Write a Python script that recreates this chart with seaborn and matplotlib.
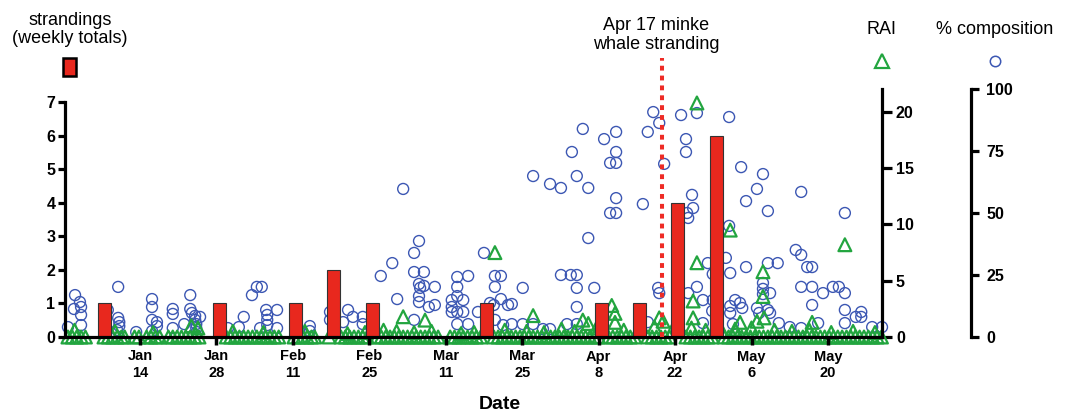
import matplotlib
matplotlib.use("Agg")
import matplotlib.pyplot as plt
import seaborn as sns
import pandas as pd
from matplotlib.lines import Line2D
from matplotlib.patches import Rectangle

# ---------------- data (x = day of year, Jan 1 = 1) ----------------
week_mid = [7.5, 28.5, 42.5, 49.5, 56.5, 77.5, 98.5, 105.5, 112.5, 119.5]
week_strandings = [1, 1, 1, 2, 1, 1, 1, 1, 4, 6]

event_day = 109.6          # Apr 17 minke whale stranding (as drawn)

tick_days = [14, 28, 42, 56, 70, 84, 98, 112, 126, 140]
tick_labels = ["Jan\n14", "Jan\n28", "Feb\n11", "Feb\n25", "Mar\n11",
               "Mar\n25", "Apr\n8", "Apr\n22", "May\n6", "May\n20"]

circle_day = [
    0.8, 2.1, 1.9, 3.0, 3.2, 3.2, 3.2, 8.1, 10.0, 10.0,
    10.2, 10.2, 9.8, 13.3, 16.2, 16.2, 16.2, 17.1, 17.1, 16.2,
    20.0, 20.0, 20.0, 22.1, 23.2, 23.2, 23.5, 24.1, 24.1, 24.3,
    24.3, 24.4, 25.0, 30.1, 32.1, 33.0, 34.5, 35.4, 36.3, 37.1,
    37.3, 37.3, 37.3, 39.1, 36.0, 39.1, 45.1, 45.1, 48.8, 48.8,
    51.2, 52.1, 53.0, 54.8, 54.8, 58.1, 60.2, 61.1, 62.2, 64.2,
    65.1, 64.2, 66.0, 65.1, 66.0, 65.3, 68.0, 65.1, 65.1, 66.9,
    68.0, 64.2, 71.1, 71.1, 71.1, 72.1, 72.1, 72.1, 72.1, 73.2,
    73.2, 74.1, 72.1, 74.1, 75.9, 77.0, 79.0, 80.1, 79.0, 80.1,
    78.1, 78.8, 81.4, 79.0, 80.5, 82.1, 84.1, 86.0, 89.1, 91.1,
    94.0, 96.1, 93.1, 95.1, 96.1, 91.1, 92.9, 94.0, 94.0, 97.2,
    94.0, 82.1, 84.1, 86.0, 87.8, 89.1, 92.2, 94.0, 99.0, 101.2,
    101.2, 100.1, 101.2, 101.2, 100.1, 101.2, 106.1, 107.0, 108.0, 109.1,
    110.0, 108.9, 109.1, 107.0, 113.1, 116.0, 121.9, 114.0, 114.0, 115.1,
    115.3, 114.2, 114.4, 124.1, 128.1, 127.0, 125.0, 129.0, 121.9, 118.0,
    121.3, 122.1, 125.0, 129.0, 130.8, 118.9, 116.0, 117.1, 118.9, 114.4,
    123.0, 123.9, 124.3, 122.1, 122.1, 118.8, 128.1, 128.1, 128.1, 129.0,
    127.0, 127.4, 117.1, 122.6, 135.1, 143.1, 134.1, 135.1, 136.2, 137.1,
    135.1, 137.1, 139.1, 140.9, 142.0, 143.1, 137.1, 143.1, 145.1, 146.1,
    146.1, 143.1, 131.0, 133.0, 135.1, 138.2, 148.1, 149.9, 129.4, 129.4,
]
circle_pct = [
    4.0, 16.9, 11.3, 14.1, 12.1, 8.9, 4.8, 10.9, 20.2, 7.7,
    6.0, 4.4, 2.8, 2.0, 15.3, 12.1, 6.9, 6.0, 4.4, 2.4,
    11.3, 9.3, 3.6, 5.2, 16.9, 11.3, 9.7, 8.5, 6.9, 5.2,
    3.6, 2.0, 8.1, 3.6, 4.0, 8.1, 16.9, 20.2, 20.2, 10.9,
    8.9, 6.9, 4.8, 10.9, 3.6, 3.6, 4.4, 2.4, 10.1, 6.9,
    6.0, 10.9, 8.1, 8.1, 5.2, 24.6, 29.8, 15.3, 59.7, 33.9,
    38.7, 26.2, 26.2, 21.4, 20.6, 19.8, 20.2, 16.5, 14.1, 12.1,
    12.9, 6.9, 14.9, 12.1, 10.1, 24.2, 20.2, 16.5, 10.1, 10.1,
    14.9, 24.6, 5.2, 5.2, 10.1, 33.9, 24.6, 24.6, 20.2, 15.3,
    13.7, 12.9, 12.9, 6.9, 4.8, 13.3, 19.8, 64.9, 61.7, 60.1,
    64.9, 60.1, 74.6, 83.9, 39.9, 25.0, 25.0, 25.0, 19.8, 19.8,
    12.1, 5.2, 5.2, 5.2, 3.2, 3.2, 5.2, 5.2, 79.8, 82.7,
    74.6, 70.2, 70.2, 56.0, 50.0, 50.0, 53.6, 82.7, 90.7, 86.3,
    69.8, 19.8, 17.7, 6.0, 89.5, 90.3, 88.7, 79.8, 74.6, 57.3,
    52.0, 50.0, 48.0, 68.5, 65.7, 59.7, 54.8, 50.8, 44.8, 29.8,
    31.9, 25.8, 28.2, 29.8, 29.8, 25.4, 20.2, 14.9, 14.9, 17.7,
    14.9, 13.7, 11.7, 12.5, 9.7, 10.5, 21.8, 19.4, 17.3, 10.9,
    11.7, 9.7, 5.6, 5.2, 58.5, 50.0, 35.1, 33.1, 28.2, 28.2,
    20.2, 20.2, 17.7, 20.2, 20.2, 17.7, 12.9, 10.9, 8.1, 10.1,
    8.1, 5.6, 5.6, 4.0, 3.6, 5.6, 4.0, 4.0, 17.7, 9.7,
]

rai_zero_days = [
    0.8, 1.6, 2.4, 3.2, 4.0, 7.4, 8.2, 9.0, 9.8, 10.6, 11.2, 13.0, 13.8,
    15.2, 16.0, 16.8, 17.6, 19.2, 20.0, 20.8, 21.6, 22.4, 23.2, 24.0, 24.8,
    29.8, 30.6, 31.4, 32.2, 33.0, 33.8, 34.6, 35.4, 36.2, 37.0, 37.8, 38.6, 39.4,
    42.2, 43.0, 43.8, 44.6, 45.4, 46.0, 48.6, 50.8, 51.6, 52.4, 53.2, 54.0,
    54.8, 55.6, 57.4, 58.2, 59.0, 59.8, 60.6, 61.4, 62.2, 63.0, 63.8, 64.6,
    65.4, 66.2, 67.0, 67.8, 68.6, 70.8, 71.6, 72.4, 73.2, 74.0, 74.8, 75.6,
    76.4, 78.8, 79.6, 80.4, 81.2, 82.0, 82.8, 83.6, 84.4, 85.2, 86.0, 86.8,
    87.6, 88.4, 89.2, 90.0, 90.8, 91.6, 92.4, 93.2, 94.0, 94.8, 95.6, 96.4,
    97.2, 98.0, 99.8, 100.6, 101.4, 102.2, 103.0, 103.8, 104.6, 107.0, 107.8,
    108.6, 109.4, 110.2, 111.0, 114.0, 114.8, 115.6, 116.4, 117.2, 118.0,
    118.8, 121.0, 121.8, 122.6, 123.4, 124.2, 125.0, 125.8, 126.6, 127.4,
    128.2, 129.0, 129.8, 130.6, 131.4, 132.2, 133.0, 133.8, 134.6, 135.4,
    136.2, 137.0, 137.8, 138.6, 139.4, 140.2, 141.0, 141.8, 142.6, 143.4,
    144.2, 145.0, 145.8, 146.6, 147.4, 148.2, 149.0, 149.8,
]
rai_low_days = [2.0, 9.4, 16.4, 23.4, 24.6, 31.0, 36.6, 44.2, 52.0, 55.2,
                58.6, 61.0, 64.2, 67.4, 72.8, 75.2, 80.8, 84.8, 88.0, 91.2,
                93.6, 97.6, 102.6, 108.2, 111.4, 115.0, 117.6, 120.6, 123.0, 126.0,
                130.2, 133.4, 136.6, 140.6, 144.6, 148.6]
rai_low_vals = [0.6, 0.5, 0.4, 1.0, 0.8, 0.5, 0.4, 0.5, 0.3, 0.4,
                0.6, 0.5, 0.4, 0.5, 0.3, 0.4, 0.6, 0.5, 0.4, 0.7,
                0.5, 0.8, 0.6, 0.9, 0.5, 0.8, 0.6, 0.5, 0.7, 0.8,
                0.6, 0.5, 0.6, 0.4, 0.5, 0.4]
rai_high_days = [79.0, 62.2, 66.2, 86.0, 100.4, 101.0, 101.0, 95.1, 96.1, 109.1,
                 109.8, 116.0, 122.1, 116.0, 115.3, 115.3, 128.1, 128.1, 123.9, 127.0,
                 128.3, 143.1, 137.1]
rai_high_vals = [7.5, 1.8, 1.5, 1.9, 2.8, 2.1, 1.3, 1.5, 1.2, 1.7,
                 1.4, 20.8, 9.5, 6.6, 3.2, 1.7, 5.8, 3.6, 1.3, 1.4,
                 1.7, 8.2, 1.3]

# ---------------- styling ----------------
RED = "#E8281E"
BLUE = "#3C57B3"
GREEN = "#22A53F"

sns.set_style("ticks")
plt.rcParams["font.family"] = ["Liberation Sans", "DejaVu Sans"]
plt.rcParams["text.color"] = "black"
plt.rcParams["axes.labelcolor"] = "black"
plt.rcParams["xtick.color"] = "black"
plt.rcParams["ytick.color"] = "black"
plt.rcParams["xtick.labelcolor"] = "black"
plt.rcParams["ytick.labelcolor"] = "black"

W, H = 1067, 415
fig = plt.figure(figsize=(W / 100, H / 100), dpi=100)
L, R, T, B = 65, 882, 89, 337
ax1 = fig.add_axes([L / W, 1 - B / H, (R - L) / W, (B - T) / H])
ax2 = ax1.twinx()
ax3 = ax1.twinx()
ax3.set_zorder(1)
ax2.set_zorder(2)
ax1.set_zorder(3)
for a in (ax1, ax2, ax3):
    a.patch.set_visible(False)

circles = pd.DataFrame({"day": circle_day, "pct": circle_pct})
tri = pd.DataFrame({
    "day": rai_zero_days + rai_low_days + rai_high_days,
    "rai": [0.0] * len(rai_zero_days) + rai_low_vals + rai_high_vals,
})
bars = pd.DataFrame({"day": week_mid, "n": week_strandings})

sns.scatterplot(data=circles, x="day", y="pct", ax=ax3, marker="o", s=62,
                linewidth=1.0, clip_on=False, legend=False)
c = ax3.collections[-1]
c.set_facecolor("none")
c.set_edgecolor(BLUE)

sns.scatterplot(data=tri, x="day", y="rai", ax=ax2, marker="^", s=85,
                linewidth=1.6, clip_on=False, legend=False)
t = ax2.collections[-1]
t.set_facecolor("none")
t.set_edgecolor(GREEN)

sns.barplot(data=bars, x="day", y="n", ax=ax1, native_scale=True, orient="x",
            width=0.34, color=RED, saturation=1, edgecolor="#333333",
            linewidth=0.8, errorbar=None)

ax1.plot([event_day, event_day], [0, 8.31], color="#EE2B25", lw=2.9,
         linestyle=(0, (1.2, 1.25)), clip_on=False, zorder=5)

ax1.set_xlim(0.26, 149.9)
ax1.set_ylim(0, 7.387)
ax2.set_ylim(0, 22.04)
ax3.set_ylim(0, 100)

for a in (ax1, ax2, ax3):
    for s in a.spines.values():
        s.set_visible(False)
        s.set_linewidth(2.3)
        s.set_color("black")
ax1.spines["left"].set_visible(True)
ax1.spines["left"].set_bounds(0, 7)
ax1.spines["bottom"].set_visible(True)
ax2.spines["right"].set_visible(True)
ax3.spines["right"].set_visible(True)
ax3.spines["right"].set_position(("outward", 64))

ax1.set_xticks(tick_days, tick_labels, fontweight="bold", fontsize=10.5,
               linespacing=1.25, color="black")
ax1.set_yticks(range(8), [str(v) for v in range(8)], fontweight="bold",
               fontsize=11.5, color="black")
ax2.set_yticks([0, 5, 10, 15, 20], ["0", "5", "10", "15", "20"],
               fontweight="bold", fontsize=11.5, color="black")
ax3.set_yticks([0, 25, 50, 75, 100], ["0", "25", "50", "75", "100"],
               fontweight="bold", fontsize=11.5, color="black")
ax1.tick_params(axis="x", direction="out", length=6, width=2.5, pad=3, color="black")
ax1.tick_params(axis="y", direction="out", length=5, width=2.3, pad=2, color="black")
ax2.tick_params(axis="y", direction="out", length=7, width=2.3, pad=3, color="black")
ax3.tick_params(axis="y", direction="out", length=6, width=2.3, pad=5, color="black")
ax1.set_xlabel("")
ax1.set_ylabel("")
ax2.set_ylabel("")
ax3.set_ylabel("")

# ---------------- annotations / legend ----------------
fig.text(500 / W, 1 - 404 / H, "Date", fontsize=14, fontweight="bold",
         ha="center", va="center", color="black")
fig.text(70 / W, 1 - 29.5 / H, "strandings\n(weekly totals)", fontsize=13,
         ha="center", va="center", linespacing=1.15, color="black")
fig.add_artist(Rectangle((63 / W, 1 - 76 / H), 13 / W, 18 / H,
                         transform=fig.transFigure, facecolor=RED,
                         edgecolor="black", lw=1.8))
fig.text(656 / W, 1 - 35 / H, "Apr 17 minke\nwhale stranding", fontsize=13,
         ha="center", va="center", linespacing=1.15, color="black")
fig.text(881 / W, 1 - 30 / H, "RAI", fontsize=13, ha="center", va="center",
         color="black")
fig.add_artist(Line2D([882 / W], [1 - 61 / H], marker="^", ms=9.5,
                      mfc="none", mec=GREEN, mew=1.6, transform=fig.transFigure))
fig.text(995 / W, 1 - 30 / H, "% composition", fontsize=13, ha="center",
         va="center", color="black")
fig.add_artist(Line2D([995 / W], [1 - 61 / H], marker="o", ms=7.5,
                      mfc="none", mec=BLUE, mew=1.1, transform=fig.transFigure))

fig.savefig("out.png", dpi=100)
